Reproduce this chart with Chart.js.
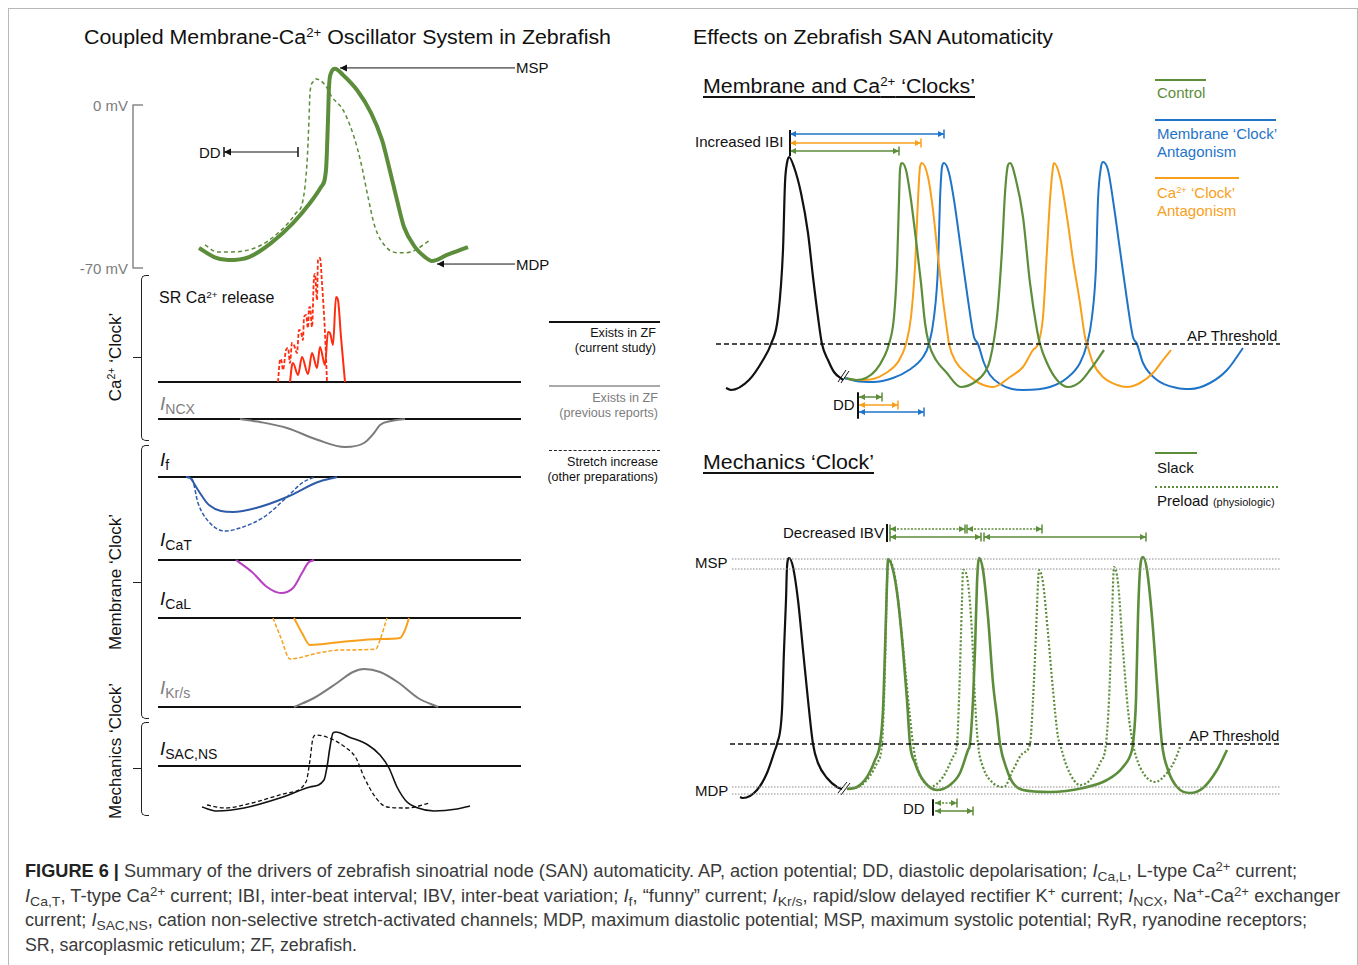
<!DOCTYPE html>
<html>
<head>
<meta charset="utf-8">
<title>Zebrafish SAN automaticity</title>
<script src="https://cdn.jsdelivr.net/npm/chart.js@4.4.1/dist/chart.umd.min.js"></script>
<style>
    html, body { margin: 0; padding: 0; background: #fff; }
    #fig { position: relative; width: 1358px; height: 965px; overflow: hidden; font-family: "Liberation Sans", Arial, sans-serif; color: #111; }
    canvas { position: absolute; }
    .t { position: absolute; white-space: nowrap; line-height: 1; }
    .t sup, .t sub { position: relative; vertical-align: baseline; line-height: 0; }
    .t sup { font-size: 0.62em; top: -0.55em; }
    .t sub { font-size: 0.74em; top: 0.28em; }
    .cur { font-size: 19px; }
    .cur sub { font-size: 14px; top: 4px; }
    .gray { color: #7d7d7d; }
    .frame { position: absolute; left: 8px; top: 8px; width: 1348px; height: 1000px; border: 1px solid #b8b8b8; }
    .brace { position: absolute; left: 141px; width: 7px; border: 1.5px solid #222; border-right: none; border-radius: 5px 0 0 5px; }
    .tick { position: absolute; left: 133px; width: 8px; border-top: 1.5px solid #222; }
    .key { position: absolute; height: 0; }
    .rot { position: absolute; left: 115px; font-size: 17px; transform: translate(-50%, -50%) rotate(-90deg); white-space: nowrap; line-height: 1; }
    .ul { text-decoration: underline; text-decoration-thickness: 1.5px; text-underline-offset: 3px; }
    .cap { font-size: 17.5px; color: #3a3a3a; }
    .cap b { color: #222; }
    .cap sup { font-size: 0.72em; top: -0.5em; }
    .cap sub { font-size: 0.76em; top: 0.3em; }
</style>
</head>
<body>
<div id="fig">
    <div class="frame"></div>

    <!-- left panel -->
    <div class="t" style="left:84px;top:27px;font-size:20px" data-w="527">Coupled Membrane-Ca<sup>2+</sup> Oscillator System in Zebrafish</div>
    <div class="t gray" style="right:1230px;top:98px;font-size:15px">0 mV</div>
    <div class="t gray" style="right:1230px;top:261px;font-size:15px">-70 mV</div>
    <div class="t" style="left:516px;top:60px;font-size:15px">MSP</div>
    <div class="t" style="left:516px;top:257px;font-size:15px">MDP</div>
    <div class="t" style="left:199px;top:145px;font-size:15px">DD</div>
    <div class="t" style="left:159px;top:290px;font-size:16px">SR Ca<sup>2+</sup> release</div>
    <div class="t cur gray" style="left:160px;top:394px"><i>I</i><sub>NCX</sub></div>
    <div class="t cur" style="left:160px;top:450px"><i>I</i><sub>f</sub></div>
    <div class="t cur" style="left:160px;top:530px"><i>I</i><sub>CaT</sub></div>
    <div class="t cur" style="left:160px;top:589px"><i>I</i><sub>CaL</sub></div>
    <div class="t cur gray" style="left:160px;top:678px"><i>I</i><sub>Kr/s</sub></div>
    <div class="t cur" style="left:160px;top:739px"><i>I</i><sub>SAC,NS</sub></div>

    <div class="brace" style="top:275px;height:164px"></div>
    <div class="tick" style="top:357px"></div>
    <div class="brace" style="top:445px;height:272px"></div>
    <div class="tick" style="top:582px"></div>
    <div class="brace" style="top:722px;height:92px"></div>
    <div class="tick" style="top:768px"></div>
    <div class="rot" style="top:357px">Ca<sup style="font-size:0.62em;position:relative;top:-0.55em;vertical-align:baseline">2+</sup> ‘Clock’</div>
    <div class="rot" style="top:582px">Membrane ‘Clock’</div>
    <div class="rot" style="top:751px">Mechanics ‘Clock’</div>

    <div class="key" style="left:549px;top:321px;width:111px;border-top:2px solid #111"></div>
    <div class="t" style="right:702px;top:327px;font-size:12.6px;text-align:right">Exists in ZF</div>
    <div class="t" style="right:702px;top:342px;font-size:12.6px">(current study)</div>
    <div class="key" style="left:549px;top:385px;width:111px;border-top:2px solid #aaa"></div>
    <div class="t gray" style="right:700px;top:392px;font-size:12.6px">Exists in ZF</div>
    <div class="t gray" style="right:700px;top:407px;font-size:12.6px">(previous reports)</div>
    <div class="key" style="left:549px;top:450px;width:111px;border-top:1.5px dashed #222"></div>
    <div class="t" style="right:700px;top:456px;font-size:12.6px">Stretch increase</div>
    <div class="t" style="right:700px;top:471px;font-size:12.6px">(other preparations)</div>

    <!-- right panel, membrane and Ca clocks -->
    <div class="t" style="left:693px;top:27px;font-size:20px" data-w="360">Effects on Zebrafish SAN Automaticity</div>
    <div class="t ul" style="left:703px;top:76px;font-size:20px" data-w="272">Membrane and Ca<sup>2+</sup> ‘Clocks’</div>
    <div class="t" style="left:695px;top:134px;font-size:15px">Increased IBI</div>
    <div class="t" style="left:833px;top:397px;font-size:15px">DD</div>
    <div class="t" style="left:1187px;top:328px;font-size:15px">AP Threshold</div>
    <div class="key" style="left:1155px;top:79px;width:51px;border-top:2px solid #5c8d3a"></div>
    <div class="t" style="left:1157px;top:85px;font-size:15px;color:#5c8d3a">Control</div>
    <div class="key" style="left:1155px;top:119px;width:121px;border-top:2px solid #1f74c8"></div>
    <div class="t" style="left:1157px;top:126px;font-size:15px;color:#1f74c8">Membrane ‘Clock’</div>
    <div class="t" style="left:1157px;top:144px;font-size:15px;color:#1f74c8">Antagonism</div>
    <div class="key" style="left:1155px;top:177px;width:84px;border-top:2px solid #f8a01c"></div>
    <div class="t" style="left:1157px;top:185px;font-size:15px;color:#f8a01c">Ca<sup>2+</sup> ‘Clock’</div>
    <div class="t" style="left:1157px;top:203px;font-size:15px;color:#f8a01c">Antagonism</div>

    <!-- right panel, mechanics clock -->
    <div class="t ul" style="left:703px;top:452px;font-size:20px" data-w="171">Mechanics ‘Clock’</div>
    <div class="t" style="left:783px;top:525px;font-size:15px">Decreased IBV</div>
    <div class="t" style="left:695px;top:555px;font-size:15px">MSP</div>
    <div class="t" style="left:695px;top:783px;font-size:15px">MDP</div>
    <div class="t" style="left:903px;top:801px;font-size:15px">DD</div>
    <div class="t" style="left:1189px;top:728px;font-size:15px">AP Threshold</div>
    <div class="key" style="left:1155px;top:452px;width:42px;border-top:2.5px solid #5c8d3a"></div>
    <div class="t" style="left:1157px;top:460px;font-size:15px">Slack</div>
    <div class="key" style="left:1155px;top:486px;width:123px;border-top:2px dotted #5c8d3a"></div>
    <div class="t" style="left:1157px;top:493px;font-size:15px">Preload <span style="font-size:11px">(physiologic)</span></div>

    <!-- caption -->
    <div class="t cap" style="left:25px;top:863px" data-w="1272"><b>FIGURE 6 |</b> Summary of the drivers of zebrafish sinoatrial node (SAN) automaticity. AP, action potential; DD, diastolic depolarisation; <i>I</i><sub>Ca,L</sub>, L-type Ca<sup>2+</sup> current;</div>
    <div class="t cap" style="left:25px;top:888px" data-w="1315"><i>I</i><sub>Ca,T</sub>, T-type Ca<sup>2+</sup> current; IBI, inter-beat interval; IBV, inter-beat variation; <i>I</i><sub>f</sub>, “funny” current; <i>I</i><sub>Kr/s</sub>, rapid/slow delayed rectifier K<sup>+</sup> current; <i>I</i><sub>NCX</sub>, Na<sup>+</sup>-Ca<sup>2+</sup> exchanger</div>
    <div class="t cap" style="left:25px;top:912px" data-w="1282">current; <i>I</i><sub>SAC,NS</sub>, cation non-selective stretch-activated channels; MDP, maximum diastolic potential; MSP, maximum systolic potential; RyR, ryanodine receptors;</div>
    <div class="t cap" style="left:25px;top:937px" data-w="332">SR, sarcoplasmic reticulum; ZF, zebrafish.</div>

    <canvas id="leftChart" width="430" height="780" style="left:130px;top:50px"></canvas>
    <canvas id="clockChart" width="590" height="320" style="left:700px;top:110px"></canvas>
    <canvas id="mechChart" width="590" height="320" style="left:700px;top:510px"></canvas>
</div>

<script>
// ---------- left panel: coupled oscillator (time in ms, AP in mV, currents in a.u. from each baseline) ----------
const apBaseT = [69, 84, 98, 119, 141, 163, 180, 191, 196, 198, 199, 201, 205, 213, 227, 241, 252, 259, 267, 274, 285, 295, 302, 317, 338];
const apBaseV = [-61.4, -65.3, -66.6, -65.3, -59.3, -50.7, -42.1, -35.2, -27.9, -6.4, 7.7, 13.7, 15.5, 12.9, 6.4, -3.4, -15.0, -26.6, -40.8, -52.4, -61.0, -65.3, -67.0, -64.4, -61.0];
const apStretchT = [75, 87, 102, 127, 148, 166, 173, 177, 179, 180, 183, 186, 195, 202, 213, 224, 231, 238, 245, 256, 270, 281, 299];
const apStretchV = [-60.1, -63.1, -63.1, -61.0, -55.0, -46.4, -40.8, -24.9, -6.4, 5.2, 9.9, 11.2, 8.6, 3.4, -2.1, -13.7, -24.9, -39.5, -52.4, -61.0, -63.5, -63.1, -58.4];

const srBaseT = [160, 162, 163, 168, 172, 178, 182, 187, 190, 195, 198, 200, 203, 206, 208, 211, 215];
const srBaseV = [0, 17, 19, 7, 25, 8, 29, 14, 35, 17, 50, 49, 37, 85, 82, 45, 0];
const srStretchT = [148, 150, 151, 153, 156, 158, 160, 162, 164, 167, 169, 171, 173, 174, 176, 178, 179, 180, 182, 184, 185, 187, 188, 190, 192, 195, 197];
const srStretchV = [0, 22, 23, 12, 32, 34, 19, 39, 37, 29, 52, 50, 42, 65, 67, 54, 74, 75, 55, 105, 108, 82, 122, 124, 99, 49, 0];

const ncxT = [110, 130, 157, 188, 215, 234, 244, 250, 261, 275];
const ncxV = [0, -3, -9, -21, -28, -24, -14, -6, -2, 0];

const ifBaseT = [56, 60, 68, 79, 103, 126, 157, 188, 207];
const ifBaseV = [0, -1, -13, -28, -35, -31, -20, -5, 0];
const ifStretchT = [56, 62, 68, 79, 95, 110, 134, 157, 172, 184];
const ifStretchV = [0, -2, -26, -45, -54, -51, -40, -20, -6, 0];

const catT = [106, 122, 137, 151, 163, 172, 178, 184];
const catV = [0, -12, -27, -33, -28, -13, -3, 0];

const calBaseT = [164, 172, 180, 211, 250, 270, 275, 279];
const calBaseV = [0, -15, -27, -24, -21, -20, -12, 0];
const calStretchT = [143, 151, 160, 188, 211, 246, 250, 257];
const calStretchV = [0, -20, -41, -35, -32, -31, -22, 0];

const krT = [164, 184, 207, 223, 234, 250, 269, 288, 308];
const krV = [0, 9, 24, 35, 38, 35, 24, 9, 0];

const sacBaseT = [72, 87, 114, 153, 180, 194, 197, 200, 203, 206, 219, 238, 250, 259, 267, 277, 288, 304, 327, 340];
const sacBaseV = [-41, -45, -42, -31, -21, -14, -1, 19, 33, 34, 29, 21, 11, -2, -21, -36, -42, -45, -43, -40];
const sacStretchT = [77, 95, 122, 157, 176, 180, 183, 186, 199, 215, 226, 234, 246, 257, 277, 300];
const sacStretchV = [-39, -42, -37, -27, -16, 6, 28, 31, 28, 19, 8, -11, -32, -41, -42, -37];

const rowSpanT = [28, 391];
const scaleBarT = [13, 3, 3, 13];
const scaleBarV = [0, 0, -70, -70];
const mspLevel = 15.9, mdpLevel = -68.3, ddLevel = -20.2;
const mspArrowT = [210, 385], mdpArrowT = [307, 385], ddArrowT = [94, 168];

// ---------- right top: membrane and Ca2+ clocks (time in ms, voltage relative to AP threshold) ----------
const firstApT = [26, 31, 49, 63, 71, 78, 83, 85, 87, 89, 94, 101, 108, 113, 118, 122, 128, 134, 143];
const firstApV = [-44, -46, -36, -16, 0, 27, 94, 161, 181, 187, 177, 151, 111, 67, 27, 0, -16, -28, -36];
const controlT = [146, 156, 166, 176, 184, 189, 194, 197, 199, 200, 202, 206, 211, 216, 221, 225, 229, 236, 246, 261, 275, 285, 290, 297, 302, 305, 308, 310, 316, 323, 330, 337, 340, 347, 357, 368, 380, 390, 404];
const controlV = [-34, -36, -34, -26, -13, 0, 27, 77, 144, 174, 181, 174, 144, 104, 61, 21, 0, -16, -28, -43, -38, -28, -16, 27, 94, 151, 179, 181, 164, 127, 61, 14, 0, -19, -36, -43, -38, -26, -6];
const caAntagT = [148, 159, 173, 186, 198, 206, 211, 215, 218, 220, 222, 228, 233, 238, 243, 248, 249, 256, 266, 279, 293, 310, 323, 333, 338, 343, 347, 350, 353, 354, 360, 367, 373, 380, 385, 387, 393, 403, 417, 427, 440, 453, 463, 471];
const caAntagV = [-35, -36, -35, -29, -18, 0, 27, 77, 144, 177, 181, 167, 134, 87, 44, 7, 0, -18, -29, -39, -43, -33, -23, -6, 0, 27, 94, 144, 177, 181, 167, 127, 84, 41, 7, 0, -19, -33, -41, -43, -39, -29, -16, -6];
const memAntagT = [144, 156, 173, 193, 209, 223, 229, 234, 238, 240, 242, 244, 249, 254, 261, 268, 274, 278, 284, 290, 300, 312, 323, 350, 367, 380, 387, 392, 396, 398, 401, 403, 408, 413, 420, 427, 433, 437, 443, 457, 477, 490, 510, 527, 543];
const memAntagV = [-34, -37, -38, -34, -26, -13, 0, 27, 77, 144, 177, 181, 171, 144, 94, 44, 7, 0, -19, -31, -40, -45, -46, -43, -34, -19, 0, 27, 77, 144, 177, 182, 174, 144, 94, 44, 7, 0, -19, -36, -44, -45, -39, -26, -4];
const clockThreshT = [16, 580];
const ibiStart = 90;
const ibiEnd = { control: 199, ca: 221, mem: 244 };
const ibiLevel = { control: 193, ca: 201, mem: 210 };
const ibiBarV = [188, 214];
const ddStart = 159, ddBarT = 158;
const ddEnd = { control: 182, ca: 198, mem: 224 };
const ddLevel2 = { control: -53, ca: -61, mem: -68 };
const ddBarV = [-49, -74];
const breakTopA = { t: [138, 146], v: [-38, -26] }, breakTopB = { t: [141, 149], v: [-39, -27] };

// ---------- right bottom: mechanics clock ----------
const mechFirstT = [40, 43, 57, 67, 75, 77, 82, 84, 86, 87, 89, 93, 98, 103, 108, 113, 118, 127, 137, 142];
const mechFirstV = [-53, -54, -46, -29, -6, 0, 34, 94, 144, 177, 186, 177, 144, 94, 44, 0, -19, -34, -43, -45];
const slackT = [147, 157, 167, 175, 180, 183, 185, 187, 188, 193, 198, 203, 207, 210, 215, 223, 237, 250, 260, 268, 270, 273, 275, 277, 279, 283, 288, 293, 297, 300, 307, 313, 323, 350, 383, 407, 423, 432, 433, 436, 438, 440, 443, 447, 452, 457, 462, 468, 477, 490, 503, 517, 527];
const slackV = [-45, -43, -33, -16, 0, 34, 94, 161, 185, 174, 144, 94, 44, 0, -19, -36, -46, -41, -29, -6, 0, 44, 94, 161, 186, 174, 127, 61, 27, 0, -26, -39, -46, -48, -44, -36, -23, -6, 0, 44, 127, 174, 187, 174, 127, 61, 0, -26, -43, -49, -44, -26, -6];
const preloadT = [147, 160, 170, 177, 182, 185, 187, 189, 195, 200, 205, 210, 213, 218, 227, 230, 243, 253, 257, 259, 262, 263, 268, 272, 275, 278, 283, 293, 304, 313, 323, 330, 333, 336, 338, 339, 343, 348, 353, 358, 360, 367, 380, 390, 400, 406, 409, 412, 414, 418, 423, 428, 433, 440, 455, 467, 475, 480];
const preloadV = [-45, -42, -32, -19, 0, 77, 161, 184, 167, 127, 77, 27, 0, -26, -41, -43, -33, -13, 0, 44, 144, 174, 161, 111, 44, 0, -23, -39, -43, -26, -9, 0, 44, 111, 161, 174, 161, 111, 54, 7, 0, -23, -41, -36, -19, 0, 44, 127, 177, 161, 94, 34, 0, -23, -38, -29, -16, -3];
const mechThreshT = [30, 580];
const refSpanT = [32, 580];
const mspLevels = [185, 175];
const mdpLevels = [-43, -50];
const ibvDotted = [[190, 265], [267, 342]], ibvDottedLevel = 215;
const ibvSolid = [[190, 281], [284, 446]], ibvSolidLevel = 207;
const ibvBarT = 187, ibvBarV = [202, 220];
const mechDdBarT = 233, mechDdBarV = [-56, -71];
const mechDdDotted = [235, 257], mechDdDottedLevel = -59;
const mechDdSolid = [235, 273], mechDdSolidLevel = -67;
const breakBotA = { t: [138, 147], v: [-49, -38] }, breakBotB = { t: [141, 150], v: [-51, -39] };

// colours
const GREEN = '#5c8d3a', BLUE = '#1f74c8', ORANGE = '#f8a01c', RED = '#ff2d10';
const MAGENTA = '#b83fc2', IF_BLUE = '#2e5ca8', GRAY = '#7b7b7b', INK = '#111';

const zip = (xs, ys) => xs.map((x, i) => ({ x, y: ys[i] }));

function trace(xs, ys, color, width, extra) {
    return Object.assign({
        data: zip(xs, ys), borderColor: color, borderWidth: width,
        pointRadius: 0, fill: false, cubicInterpolationMode: 'monotone', clip: false
    }, extra || {});
}
function straight(xs, ys, color, width, extra) {
    return trace(xs, ys, color, width, Object.assign({ cubicInterpolationMode: 'default', tension: 0 }, extra || {}));
}
function level(span, v, color, width, extra) {
    return straight(span, [v, v], color, width, extra);
}

// arrowheads and end bars on dataset ends
const arrowEnds = {
    id: 'arrowEnds',
    afterDatasetsDraw(chart) {
        const ctx = chart.ctx;
        chart.data.datasets.forEach((ds, i) => {
            if (!ds.ends) return;
            const pts = chart.getDatasetMeta(i).data;
            const a = pts[0], b = pts[pts.length - 1];
            const ang = Math.atan2(b.y - a.y, b.x - a.x);
            const L = ds.ends.size || 7, W = L * 0.5, B = ds.ends.barLen || 4.5;
            ctx.save();
            ctx.setLineDash([]);
            ctx.fillStyle = ds.borderColor;
            ctx.strokeStyle = ds.borderColor;
            ctx.lineWidth = 1.5;
            const head = (p, dir) => {
                ctx.beginPath();
                ctx.moveTo(p.x, p.y);
                ctx.lineTo(p.x - L * Math.cos(dir) + W * Math.sin(dir), p.y - L * Math.sin(dir) - W * Math.cos(dir));
                ctx.lineTo(p.x - L * Math.cos(dir) - W * Math.sin(dir), p.y - L * Math.sin(dir) + W * Math.cos(dir));
                ctx.closePath();
                ctx.fill();
            };
            const bar = (p) => {
                ctx.beginPath();
                ctx.moveTo(p.x + B * Math.sin(ang), p.y - B * Math.cos(ang));
                ctx.lineTo(p.x - B * Math.sin(ang), p.y + B * Math.cos(ang));
                ctx.stroke();
            };
            const h = ds.ends.head || '', br = ds.ends.bar || '';
            if (h === 'start' || h === 'both') head(a, ang + Math.PI);
            if (h === 'end' || h === 'both') head(b, ang);
            if (br === 'start' || br === 'both') bar(a);
            if (br === 'end' || br === 'both') bar(b);
            ctx.restore();
        });
    }
};

function makeChart(id, xMax, yScales, datasets) {
    return new Chart(document.getElementById(id), {
        type: 'line',
        data: { datasets },
        options: {
            responsive: false, animation: false, devicePixelRatio: 1,
            layout: { padding: 0 },
            plugins: { legend: { display: false }, tooltip: { enabled: false } },
            elements: { line: { borderJoinStyle: 'round' } },
            scales: Object.assign({ x: { type: 'linear', min: 0, max: xMax, display: false } }, yScales)
        },
        plugins: [arrowEnds]
    });
}

// row axes of the left panel: each current sits on its own zero line
const rowAxis = (min, max) => ({ axis: 'y', type: 'linear', min, max, display: false });
const leftScales = {
    mv: rowAxis(-311.3, 23.6),
    sr: rowAxis(-448, 332),
    ncx: rowAxis(-411, 369),
    if: rowAxis(-353, 427),
    cat: rowAxis(-270, 510),
    cal: rowAxis(-212, 568),
    kr: rowAxis(-123, 657),
    sac: rowAxis(-64, 716)
};
const on = (axis, ds) => Object.assign(ds, { yAxisID: axis });

const leftSets = [
    on('mv', straight(scaleBarT, scaleBarV, '#888', 1.5)),
    on('mv', trace(apStretchT, apStretchV, GREEN, 1.5, { borderDash: [4, 3] })),
    on('mv', trace(apBaseT, apBaseV, GREEN, 4)),
    on('mv', level(mspArrowT, mspLevel, INK, 1, { ends: { head: 'start', size: 7 } })),
    on('mv', level(mdpArrowT, mdpLevel, INK, 1, { ends: { head: 'start', size: 7 } })),
    on('mv', level(ddArrowT, ddLevel, INK, 1, { ends: { head: 'start', bar: 'both', size: 7, barLen: 5 } })),
    on('sr', trace(srStretchT, srStretchV, RED, 1.8, { borderDash: [4, 2] })),
    on('sr', trace(srBaseT, srBaseV, RED, 2)),
    on('ncx', trace(ncxT, ncxV, GRAY, 2)),
    on('if', trace(ifStretchT, ifStretchV, IF_BLUE, 1.5, { borderDash: [4, 2] })),
    on('if', trace(ifBaseT, ifBaseV, IF_BLUE, 2)),
    on('cat', trace(catT, catV, MAGENTA, 2)),
    on('cal', trace(calStretchT, calStretchV, ORANGE, 1.5, { borderDash: [4, 2] })),
    on('cal', trace(calBaseT, calBaseV, ORANGE, 2)),
    on('kr', trace(krT, krV, GRAY, 2)),
    on('sac', trace(sacStretchT, sacStretchV, INK, 1.3, { borderDash: [4, 2.5] })),
    on('sac', trace(sacBaseT, sacBaseV, INK, 1.6))
];
['sr', 'ncx', 'if', 'cat', 'cal', 'kr', 'sac'].forEach(ax => leftSets.push(on(ax, level(rowSpanT, 0, INK, 2))));
makeChart('leftChart', 430, leftScales, leftSets);

// right top chart
const yRight = { y: { type: 'linear', min: -86, max: 234, display: false } };
makeChart('clockChart', 590, yRight, [
    level(clockThreshT, 0, INK, 1.5, { borderDash: [5, 3] }),
    trace(firstApT, firstApV, INK, 2.2),
    straight(breakTopA.t, breakTopA.v, INK, 1),
    straight(breakTopB.t, breakTopB.v, INK, 1),
    trace(controlT, controlV, GREEN, 2.2),
    trace(caAntagT, caAntagV, ORANGE, 2),
    trace(memAntagT, memAntagV, BLUE, 2),
    straight([ibiStart, ibiStart], ibiBarV, INK, 2),
    level([ibiStart, ibiEnd.mem], ibiLevel.mem, BLUE, 1.5, { ends: { head: 'both', bar: 'end', size: 6 } }),
    level([ibiStart, ibiEnd.ca], ibiLevel.ca, ORANGE, 1.5, { ends: { head: 'both', bar: 'end', size: 6 } }),
    level([ibiStart, ibiEnd.control], ibiLevel.control, GREEN, 1.5, { ends: { head: 'both', bar: 'end', size: 6 } }),
    straight([ddBarT, ddBarT], ddBarV, INK, 2),
    level([ddStart, ddEnd.control], ddLevel2.control, GREEN, 1.5, { ends: { head: 'both', bar: 'end', size: 6 } }),
    level([ddStart, ddEnd.ca], ddLevel2.ca, ORANGE, 1.5, { ends: { head: 'both', bar: 'end', size: 6 } }),
    level([ddStart, ddEnd.mem], ddLevel2.mem, BLUE, 1.5, { ends: { head: 'both', bar: 'end', size: 6 } })
]);

// right bottom chart
const mechSets = [
    level(mechThreshT, 0, INK, 1.5, { borderDash: [5, 3] }),
    trace(mechFirstT, mechFirstV, INK, 2.2),
    straight(breakBotA.t, breakBotA.v, INK, 1),
    straight(breakBotB.t, breakBotB.v, INK, 1),
    trace(preloadT, preloadV, GREEN, 2.2, { borderDash: [2, 2] }),
    trace(slackT, slackV, GREEN, 2.6),
    straight([ibvBarT, ibvBarT], ibvBarV, INK, 2),
    straight([mechDdBarT, mechDdBarT], mechDdBarV, INK, 2),
    level(mechDdDotted, mechDdDottedLevel, GREEN, 1.5, { borderDash: [2, 1.5], ends: { head: 'both', bar: 'end', size: 6 } }),
    level(mechDdSolid, mechDdSolidLevel, GREEN, 1.5, { ends: { head: 'both', bar: 'end', size: 6 } })
];
mspLevels.concat(mdpLevels).forEach(v => mechSets.unshift(level(refSpanT, v, '#8a8a8a', 1, { borderDash: [1.5, 1.5] })));
ibvDotted.forEach(seg => mechSets.push(level(seg, ibvDottedLevel, GREEN, 1.5, { borderDash: [2, 1.5], ends: { head: 'both', bar: 'both', size: 6 } })));
ibvSolid.forEach(seg => mechSets.push(level(seg, ibvSolidLevel, GREEN, 1.5, { ends: { head: 'both', bar: 'both', size: 6 } })));
makeChart('mechChart', 590, yRight, mechSets);

// squeeze long text lines to the widths they take in the figure
document.querySelectorAll('[data-w]').forEach(el => {
    const w = el.getBoundingClientRect().width;
    el.style.transformOrigin = 'left center';
    el.style.transform = `scaleX(${(el.dataset.w / w).toFixed(4)})`;
});
</script>
</body>
</html>
